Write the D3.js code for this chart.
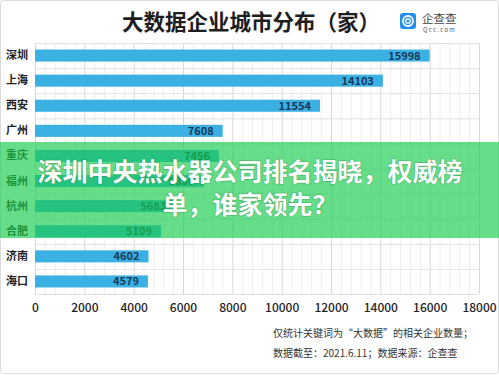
<!DOCTYPE html>
<html>
<head>
<meta charset="utf-8">
<script src="https://cdn.jsdelivr.net/npm/d3@7"></script>
<style>
  html, body { margin: 0; padding: 0; background: #fff; }
  svg { display: block; font-family: "Noto Sans CJK SC", "Noto Sans", sans-serif; }
</style>
</head>
<body>
<svg id="chart"></svg>
<script>
// 城市与企业数量
const cities = ["深圳", "上海", "西安", "广州", "重庆", "福州", "杭州", "合肥", "济南", "海口"];
const counts = [15998, 14103, 11554, 7608, 7456, 6830, 5683, 5109, 4602, 4579];
const xTicks = [0, 2000, 4000, 6000, 8000, 10000, 12000, 14000, 16000, 18000];
const titleText = "大数据企业城市分布（家）";
const noteLines = ["仅统计关键词为“大数据”的相关企业数量；", "数据截至：2021.6.11；数据来源：企查查"];
const bannerLines = ["深圳中央热水器公司排名揭晓，权威榜", "单，谁家领先？"];

const width = 499, height = 375;
const plot = { left: 35, right: 479, top: 43, bottom: 294 };

const svg = d3.select("#chart").attr("width", width).attr("height", height);

// 外框
svg.append("rect")
  .attr("x", 0.5).attr("y", 0.5)
  .attr("width", width - 1).attr("height", height - 2)
  .attr("rx", 3)
  .attr("fill", "#fff")
  .attr("stroke", "#dcdcdc");

const x = d3.scaleLinear().domain([0, 18000]).range([plot.left, plot.right]);
const y = d3.scaleBand()
  .domain(cities)
  .range([plot.top, plot.bottom])
  .paddingInner(0.52)
  .paddingOuter(0.26);

// 网格
const grid = svg.append("g");
grid.selectAll("line.minor")
  .data(d3.range(0, 18001, 400).filter(v => v % 2000 !== 0))
  .join("line")
  .attr("class", "minor")
  .attr("x1", d => x(d) + 0.5).attr("x2", d => x(d) + 0.5)
  .attr("y1", plot.top).attr("y2", plot.bottom)
  .attr("stroke", "#eeeeee");

grid.selectAll("line.major")
  .data(xTicks)
  .join("line")
  .attr("class", "major")
  .attr("x1", d => x(d) + 0.5).attr("x2", d => x(d) + 0.5)
  .attr("y1", plot.top).attr("y2", plot.bottom)
  .attr("stroke", "#d8d8d8");

const step = y.step();
grid.selectAll("line.row")
  .data(d3.range(cities.length + 1))
  .join("line")
  .attr("class", "row")
  .attr("x1", plot.left).attr("x2", plot.right)
  .attr("y1", i => plot.top + i * step + 0.5)
  .attr("y2", i => plot.top + i * step + 0.5)
  .attr("stroke", "#e2e2e2");

// 柱子
const data = cities.map((c, i) => ({ city: c, value: counts[i] }));

svg.append("g").selectAll("rect")
  .data(data)
  .join("rect")
  .attr("x", x(0))
  .attr("y", d => y(d.city))
  .attr("width", d => x(d.value) - x(0))
  .attr("height", y.bandwidth())
  .attr("fill", "#3bb0e3");

svg.append("g").selectAll("text")
  .data(data)
  .join("text")
  .attr("x", d => x(d.value) - 9)
  .attr("y", d => y(d.city) + y.bandwidth() / 2)
  .attr("dy", "0.36em")
  .attr("text-anchor", "end")
  .attr("font-size", 11)
  .attr("font-weight", "bold")
  .attr("fill", "#173a5a")
  .text(d => d.value);

// 坐标轴
const yAxis = svg.append("g")
  .attr("transform", `translate(${plot.left},0)`)
  .call(d3.axisLeft(y).tickSize(0).tickPadding(7));
yAxis.select(".domain").remove();
yAxis.selectAll("text")
  .attr("font-family", "'Noto Sans CJK SC', sans-serif")
  .attr("font-size", 11)
  .attr("font-weight", "bold")
  .attr("fill", "#222");

const xAxis = svg.append("g")
  .attr("transform", `translate(0,${plot.bottom})`)
  .call(d3.axisBottom(x).tickValues(xTicks).tickFormat(d3.format("d")).tickSize(0).tickPadding(9));
xAxis.select(".domain").remove();
xAxis.selectAll("text")
  .attr("font-family", "'Noto Sans CJK SC', sans-serif")
  .attr("font-size", 12)
  .attr("font-weight", 500)
  .attr("fill", "#222");

// 标题
svg.append("text")
  .attr("x", 251).attr("y", 30)
  .attr("text-anchor", "middle")
  .attr("font-size", 21.5)
  .attr("font-weight", "bold")
  .attr("fill", "#1e1e1e")
  .text(titleText);

// 企查查 logo
const logo = svg.append("g").attr("transform", "translate(400,13)");
logo.append("rect")
  .attr("width", 16).attr("height", 16).attr("rx", 3)
  .attr("fill", "#1f8fe8");
logo.append("circle")
  .attr("cx", 8).attr("cy", 8).attr("r", 5)
  .attr("fill", "none").attr("stroke", "#fff").attr("stroke-width", 1.8);
logo.append("circle")
  .attr("cx", 8).attr("cy", 8).attr("r", 2.2)
  .attr("fill", "none").attr("stroke", "#fff").attr("stroke-width", 1.3);
logo.append("text")
  .attr("x", 22).attr("y", 9.5)
  .attr("font-size", 11.5)
  .attr("fill", "#444")
  .text("企查查");
logo.append("text")
  .attr("x", 23).attr("y", 19)
  .attr("font-size", 6)
  .attr("letter-spacing", 1.3)
  .attr("fill", "#555")
  .text("Qcc.com");

// 注释
svg.append("g").selectAll("text")
  .data(noteLines)
  .join("text")
  .attr("x", 273)
  .attr("y", (d, i) => 337 + i * 20)
  .attr("font-size", 10)
  .attr("fill", "#333")
  .text(d => d);

// 绿色横幅
svg.append("rect")
  .attr("x", 0).attr("y", 142)
  .attr("width", width).attr("height", 96)
  .attr("fill", "rgb(27,204,78)")
  .attr("fill-opacity", 0.67);

svg.append("g").selectAll("text")
  .data(bannerLines)
  .join("text")
  .attr("x", 250)
  .attr("y", (d, i) => 181 + i * 33)
  .attr("text-anchor", "middle")
  .attr("font-size", 25)
  .attr("font-weight", "bold")
  .attr("fill", "#fff")
  .style("paint-order", "stroke")
  .attr("stroke", "rgba(0,90,40,0.25)")
  .attr("stroke-width", 1.5)
  .text(d => d);
</script>
</body>
</html>
